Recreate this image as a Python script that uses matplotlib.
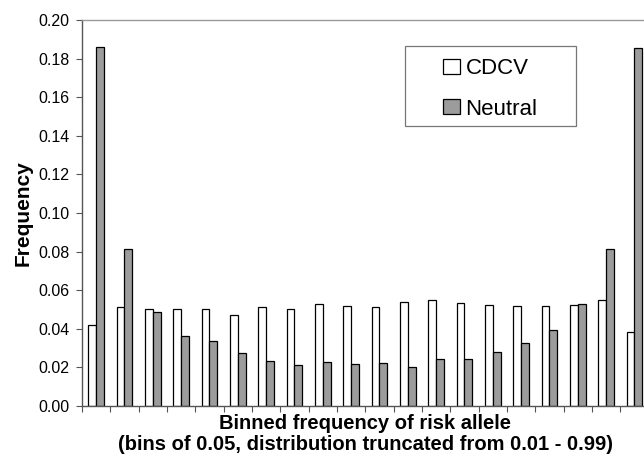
import matplotlib
matplotlib.use("Agg")
import matplotlib.pyplot as plt
from matplotlib.patches import Rectangle
import numpy as np

plt.rcParams['font.family'] = ['Liberation Sans', 'DejaVu Sans']

series_names = ["CDCV", "Neutral"]
cdcv = [0.0419, 0.0514, 0.0502, 0.0502, 0.0502, 0.0471, 0.0511, 0.0502, 0.0528, 0.0519,
        0.0512, 0.0537, 0.0547, 0.0533, 0.0521, 0.0519, 0.0516, 0.0521, 0.0549, 0.0384]
neutral = [0.1863, 0.0812, 0.0485, 0.0363, 0.0337, 0.0273, 0.0232, 0.0210, 0.0225, 0.0218,
           0.0222, 0.0201, 0.0242, 0.0242, 0.0277, 0.0324, 0.0391, 0.0528, 0.0813, 0.1855]
y_ticks = [0.00, 0.02, 0.04, 0.06, 0.08, 0.10, 0.12, 0.14, 0.16, 0.18, 0.20]
y_label = "Frequency"
x_label = "Binned frequency of risk allele\n(bins of 0.05, distribution truncated from 0.01 - 0.99)"

W, H = 644, 457
fig = plt.figure(figsize=(W/100, H/100), dpi=100)
ax = fig.add_axes([82/W, 1-405.7/H, (648.6-82)/W, (405.7-20.3)/H])

n = len(cdcv)
idx = np.arange(n)
w = 0.28
ax.bar(idx + 0.36, cdcv, width=w, color='white', edgecolor='black', linewidth=0.9,
       label=series_names[0], zorder=2)
ax.bar(idx + 0.64, neutral, width=w, color='#9c9c9c', edgecolor='black', linewidth=0.9,
       label=series_names[1], zorder=2)

ax.set_xlim(0, n)
ax.set_ylim(0, 0.20)
ax.set_xticks(np.arange(n + 1))
ax.set_xticklabels([])
ax.set_yticks(y_ticks)
ax.set_yticklabels([f"{v:.2f}" for v in y_ticks], fontsize=11.5)
ax.tick_params(axis='both', direction='out', length=4, width=0.8, color='#555555')
ax.tick_params(axis='y', pad=5)

for s in ['left', 'bottom']:
    ax.spines[s].set_color('#555555')
    ax.spines[s].set_linewidth(1.0)
ax.spines['top'].set_color('#999999')
ax.spines['top'].set_linewidth(1.0)
ax.spines['right'].set_visible(False)

ax.set_ylabel(y_label, fontsize=15, fontweight='bold', labelpad=4)
ax.set_xlabel(x_label, fontsize=14.5, fontweight='bold', labelpad=-1.5, linespacing=1.1)

# legend box
box = Rectangle((405/W, 1-126/H), (576-405)/W, (126-46)/H, transform=fig.transFigure,
                facecolor='white', edgecolor='#777777', linewidth=0.9, zorder=3)
fig.patches.append(box)
leg = fig.legend(*ax.get_legend_handles_labels(), loc='center',
                 bbox_to_anchor=(490.5/W, 1-89/H), bbox_transform=fig.transFigure,
                 fontsize=16, frameon=False, handlelength=0.75, handleheight=0.65,
                 handletextpad=0.25, labelspacing=0.87, borderpad=0, borderaxespad=0)
leg.set_zorder(4)

fig.savefig("out.png", dpi=100)
